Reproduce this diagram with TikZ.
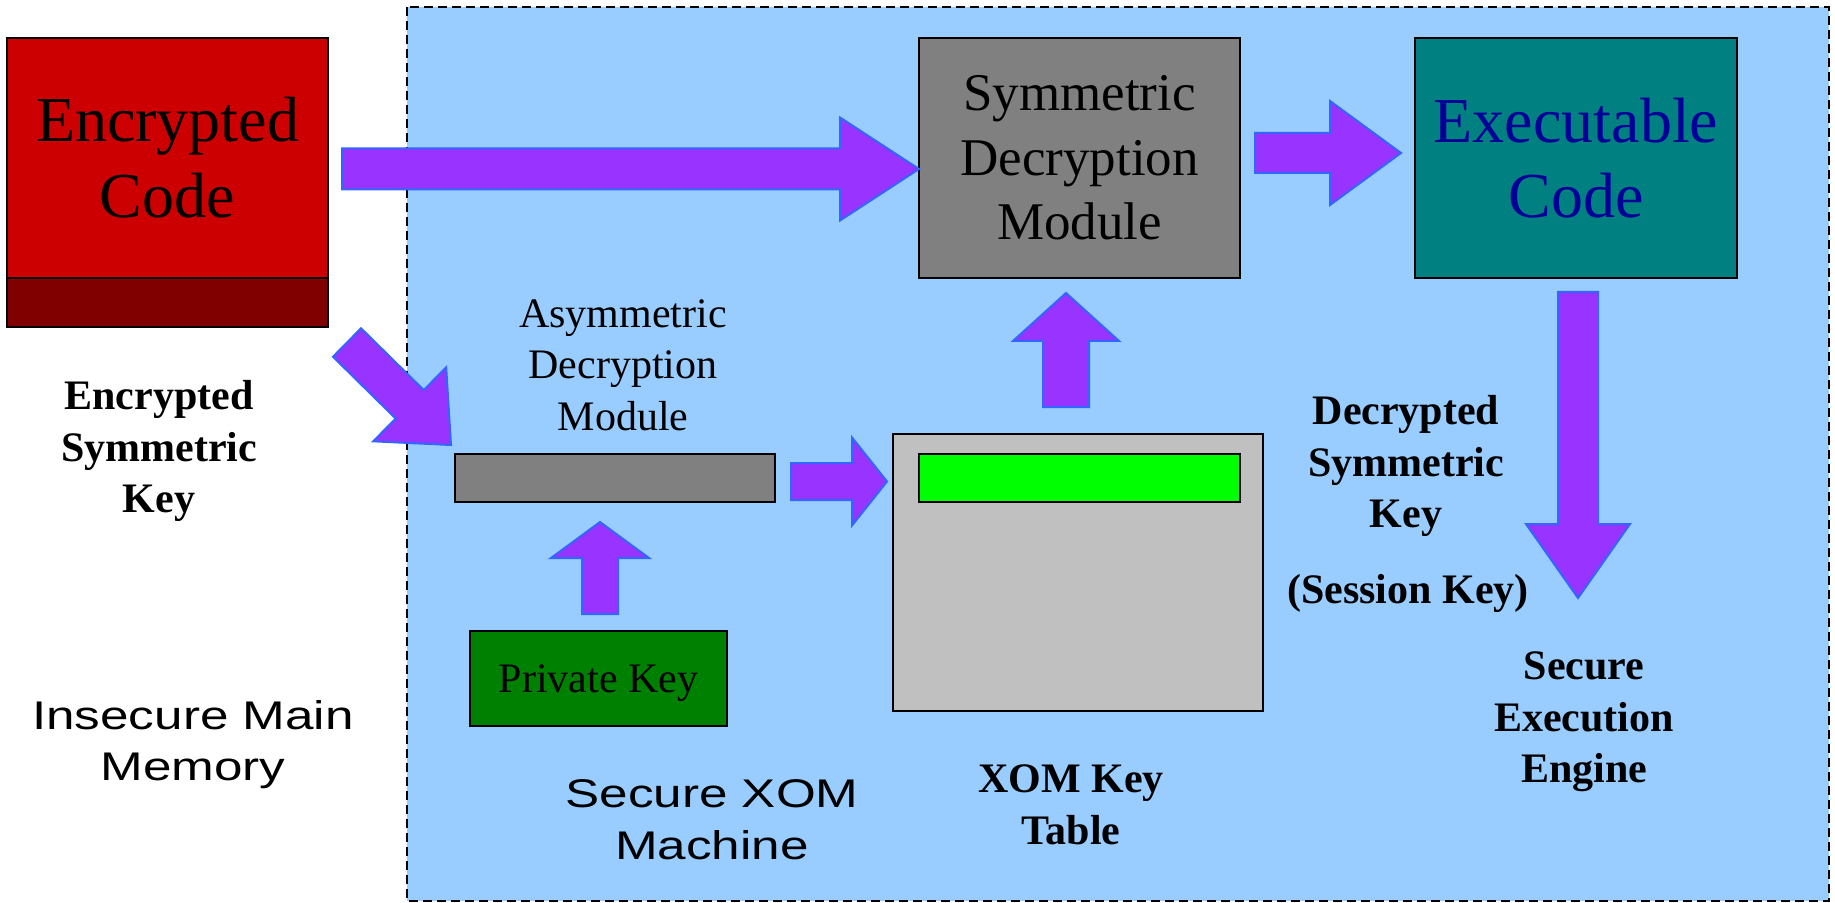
\documentclass[tikz,border=0pt]{standalone}
\usepackage{fontspec}
\setmainfont{Liberation Serif}
\setsansfont[FakeStretch=1.28]{Liberation Sans}
\usetikzlibrary{calc}

\definecolor{encred}{HTML}{CC0000}
\definecolor{keyred}{HTML}{800000}
\definecolor{xomblue}{HTML}{99CCFF}
\definecolor{flowfill}{HTML}{9933FF}
\definecolor{flowline}{HTML}{3366FF}
\definecolor{exectext}{HTML}{000099}
\definecolor{execteal}{HTML}{008080}
\definecolor{modgray}{HTML}{808080}
\definecolor{tablegray}{HTML}{C0C0C0}
\definecolor{keygreen}{HTML}{008000}
\definecolor{slotgreen}{HTML}{00FF00}

\tikzset{
  block/.style={draw=black, line width=0.75pt, inner sep=0pt, align=center},
  flow/.style={fill=flowfill, draw=flowline, line width=1pt, line join=miter},
  boldlabel/.style={font=\fontsize{21}{25.75}\selectfont\bfseries, align=center},
  sanslabel/.style={font=\fontsize{20}{25.5}\selectfont\sffamily, align=center}
}

% tail, tip, shaft half width, head half width, head length
\newcommand{\fatarrow}[5]{
  \coordinate (#1-#2-b) at ($(#2)!#5!(#1)$);
  \filldraw[flow] ($(#1)!#3!90:(#2)$) -- ($(#1-#2-b)!#3!90:(#2)$)
    -- ($(#1-#2-b)!#4!90:(#2)$) -- (#2) -- ($(#1-#2-b)!#4!-90:(#2)$)
    -- ($(#1-#2-b)!#3!-90:(#2)$) -- ($(#1)!#3!-90:(#2)$) -- cycle;
}

\begin{document}
\begin{tikzpicture}[x=0.5pt, y=-0.5pt]
\useasboundingbox (0,0) rectangle (1835,903);
\draw[fill=xomblue, line width=1.1pt, dash pattern=on 4.5pt off 2.5pt] (407,7) rectangle (1829,901);

\node[block, fill=encred, minimum width=160.5pt, minimum height=120pt, font=\fontsize{32}{38}\selectfont] (enc) at (167.5,158) {Encrypted\\Code};
\node[block, fill=keyred, minimum width=160.5pt, minimum height=24.5pt] (enc-key) at (167.5,302.5) {};
\node[block, fill=modgray, minimum width=160.5pt, minimum height=120pt, font=\fontsize{26.5}{32.25}\selectfont] (sym) at (1079.5,158) {Symmetric\\Decryption\\Module};
\node[block, fill=execteal, text=exectext, minimum width=161pt, minimum height=120pt, font=\fontsize{32}{37.5}\selectfont] (exec) at (1576,158) {Executable\\Code};

\node[font=\fontsize{21}{25.75}\selectfont, align=center] (asym-label) at (623,365) {Asymmetric\\Decryption\\Module};
\node[block, fill=modgray, minimum width=160pt, minimum height=24pt] (asym) at (615,478) {};
\node[block, fill=tablegray, line width=1.2pt, minimum width=185pt, minimum height=138.5pt] (table) at (1078,572.5) {};
\node[block, fill=slotgreen, minimum width=160.5pt, minimum height=24pt] (slot) at (1079.5,478) {};
\node[block, fill=keygreen, line width=1pt, minimum width=128.5pt, minimum height=47.5pt, text depth=0pt, font=\fontsize{21}{25}\selectfont] (priv) at (598.5,678.5) {Private Key};

\node[boldlabel] (enc-key-label) at (159,451) {Encrypted\\Symmetric\\Key};
\node[boldlabel] (dec-key-label) at (1406,466) {Decrypted\\Symmetric\\Key};
\node[boldlabel] (session-label) at (1408,593) {(Session Key)};
\node[boldlabel] (engine-label) at (1584,722) {Secure\\Execution\\Engine};
\node[boldlabel, font=\fontsize{21}{26}\selectfont\bfseries] (table-label) at (1071,805) {XOM Key\\Table};
\node[sanslabel] (memory-label) at (193,745) {Insecure Main\\Memory};
\node[sanslabel, font=\fontsize{20}{26}\selectfont\sffamily] (machine-label) at (712,820) {Secure XOM\\Machine};

\coordinate (enc-out) at (342,169);
\coordinate (sym-in) at (919,169);
\fatarrow{enc-out}{sym-in}{10.25pt}{25.75pt}{39.5pt}
\coordinate (sym-out) at (1255,153);
\coordinate (exec-in) at (1401,153);
\fatarrow{sym-out}{exec-in}{10pt}{26pt}{35.5pt}
\coordinate (exec-out) at (1578,292);
\coordinate (engine-in) at (1578,598);
\fatarrow{exec-out}{engine-in}{10pt}{26pt}{37pt}
\coordinate (table-out) at (1066,407);
\coordinate (sym-key-in) at (1066,293);
\fatarrow{table-out}{sym-key-in}{11.5pt}{26.5pt}{24pt}
\coordinate (asym-out) at (791,481.5);
\coordinate (table-in) at (887,481.5);
\fatarrow{asym-out}{table-in}{9.25pt}{22pt}{17.5pt}
\coordinate (priv-out) at (600,614);
\coordinate (asym-in) at (600,522);
\fatarrow{priv-out}{asym-in}{9pt}{24.5pt}{18pt}
\coordinate (enc-key-out) at (347,342.5);
\coordinate (asym-key-in) at (451,445);
\fatarrow{enc-key-out}{asym-key-in}{10pt}{26pt}{29pt}
\end{tikzpicture}
\end{document}
